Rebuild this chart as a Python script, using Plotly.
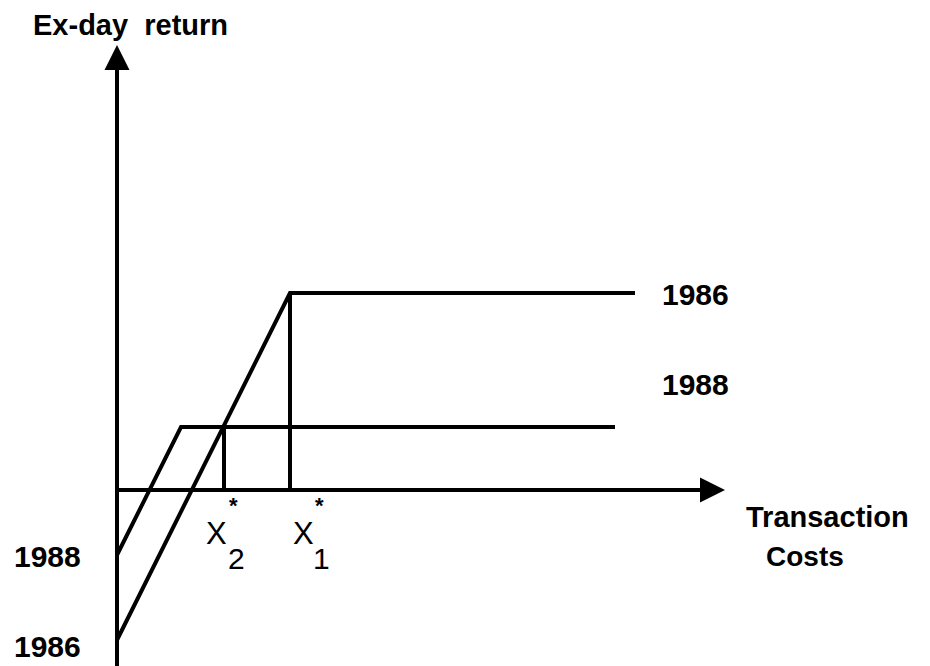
import plotly.graph_objects as go

# Schematic data (transaction cost units vs ex-day return units)
cost_1986 = [0.0, 17.3, 51.8]
ret_1986 = [-15.0, 19.7, 19.7]
cost_1988 = [0.0, 6.4, 49.8]
ret_1988 = [-6.5, 6.3, 6.3]
x_star_names = ["1", "2"]
x_star_cost = [17.3, 10.7]
x_star_ret = [19.7, 6.3]

# page body has an 8px margin: ranges shifted to compensate
X_RANGE = [-10.9, 82.1]
Y_RANGE = [-18.4, 48.2]
axis_top = 44.5
axis_right = 60.8

FONT = "Liberation Sans, Arial, Helvetica, sans-serif"
LW = 4

fig = go.Figure()
fig.add_trace(go.Scatter(x=cost_1986, y=ret_1986, mode="lines",
                         line=dict(color="black", width=LW), showlegend=False, hoverinfo="skip"))
fig.add_trace(go.Scatter(x=cost_1988, y=ret_1988, mode="lines",
                         line=dict(color="black", width=LW), showlegend=False, hoverinfo="skip"))
for xc, yr in zip(x_star_cost, x_star_ret):
    fig.add_trace(go.Scatter(x=[xc, xc], y=[0, yr], mode="lines",
                             line=dict(color="black", width=LW), showlegend=False, hoverinfo="skip"))

# axes with arrows
fig.add_annotation(x=0, y=axis_top, ax=0, ay=Y_RANGE[0], xref="x", yref="y", axref="x", ayref="y",
                   text="", showarrow=True, arrowhead=2, arrowwidth=4, arrowsize=1.25,
                   arrowcolor="black", standoff=0, startstandoff=0)
fig.add_annotation(x=axis_right, y=0, ax=0, ay=0, xref="x", yref="y", axref="x", ayref="y",
                   text="", showarrow=True, arrowhead=2, arrowwidth=4, arrowsize=1.25,
                   arrowcolor="black", standoff=0, startstandoff=0)

def label(x, y, text, size=30, weight="bold"):
    fig.add_annotation(x=x, y=y, xref="x", yref="y", text=text, showarrow=False,
                       xanchor="center", yanchor="middle",
                       font=dict(family=FONT, size=size, color="black", weight=weight))

label(1.3, 46.5, "Ex-day&nbsp;&nbsp;return", size=29)
label(57.85, 19.6, "1986")
label(57.85, 10.6, "1988")
label(71.05, -2.7, "Transaction", size=29)
label(68.8, -6.6, "Costs", size=28)
label(-6.95, -6.6, "1988")
label(-6.95, -15.6, "1986")

# X* labels (X1, X2)
x_label_pos = [18.6, 9.9]
sub_label_pos = [20.4, 11.95]
star_pos = [20.2, 11.6]
for name, xl, xs, xa in zip(x_star_names, x_label_pos, sub_label_pos, star_pos):
    label(xl, -4.35, "X", size=31, weight="normal")
    label(xs, -6.8, name, size=30, weight="normal")
    label(xa, -1.5, "*", size=22)

fig.update_xaxes(range=X_RANGE, visible=False, showgrid=False, zeroline=False)
fig.update_yaxes(range=Y_RANGE, visible=False, showgrid=False, zeroline=False)
fig.update_layout(width=930, height=666, margin=dict(l=0, r=0, t=0, b=0),
                  paper_bgcolor="white", plot_bgcolor="white")
fig.write_html("out.html")
